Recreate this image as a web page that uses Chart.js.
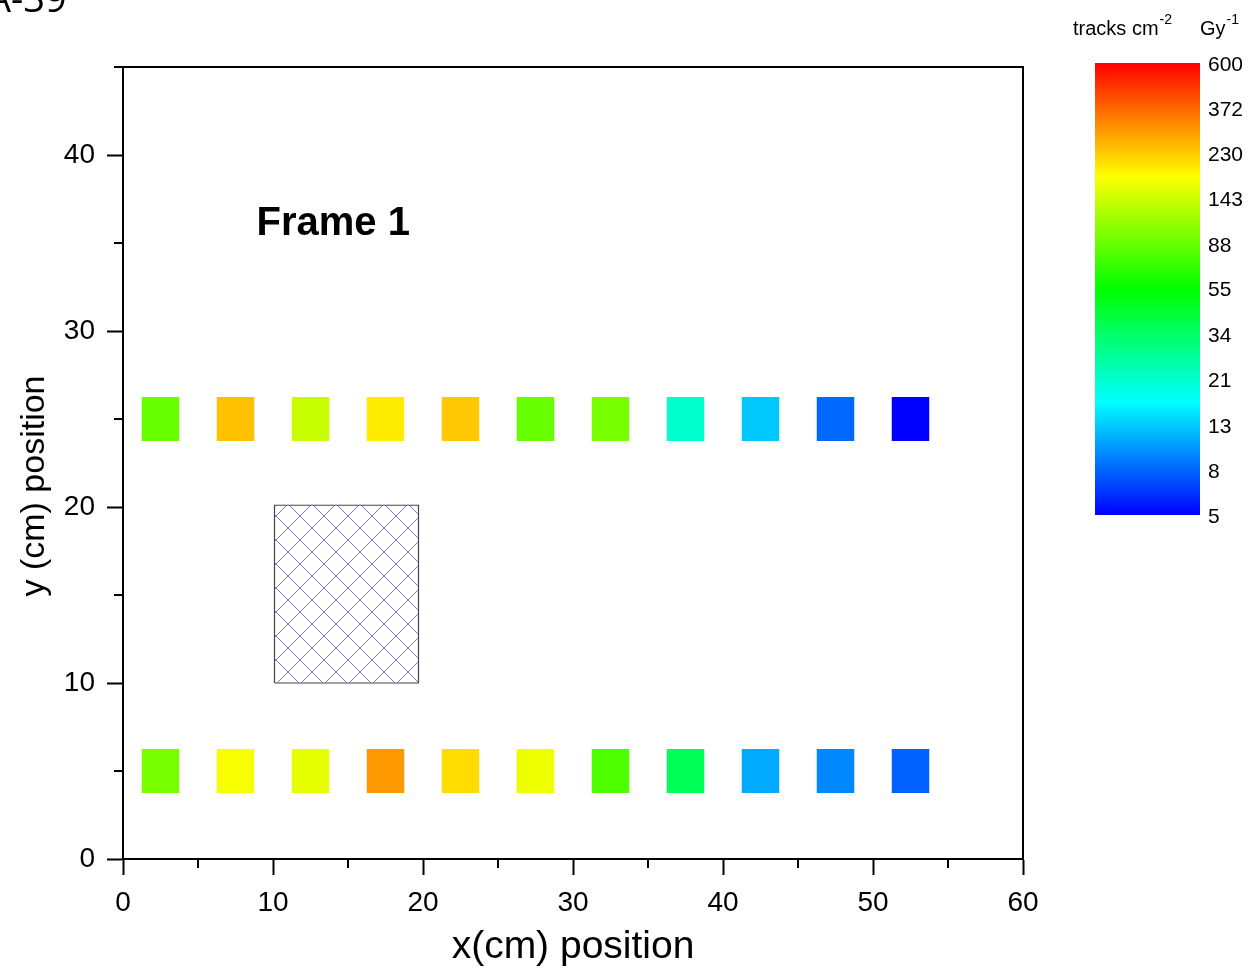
<!DOCTYPE html>
<html>
<head>
<meta charset="utf-8">
<title>Frame 1</title>
<script src="https://cdn.jsdelivr.net/npm/chart.js@4/dist/chart.umd.min.js"></script>
<style>
  html, body { margin: 0; padding: 0; background: #fff; }
  #wrap { position: relative; width: 1249px; height: 972px; }
</style>
</head>
<body>
<div id="wrap"><canvas id="myChart" width="1249" height="972"></canvas></div>
<script>
// detector positions (cm) and dose readings (tracks cm^-2 Gy^-1)
const xPositions = [2.5, 7.5, 12.5, 17.5, 22.5, 27.5, 32.5, 37.5, 42.5, 47.5, 52.5]
const topRowY = 25
const bottomRowY = 5
const detectorSize = 2.5
const topRowValues = [88, 244, 140, 197, 235, 88, 96, 21, 12.8, 8.1, 5]
const bottomRowValues = [96, 175, 161, 292, 213, 167, 79, 37, 11.1, 9.5, 7.9]

// hatched phantom block
const phantomX = [10.1, 19.7]
const phantomY = [10, 20.1]

// colour scale
const colorbarTicks = [5, 8, 13, 21, 34, 55, 88, 143, 230, 372, 600]
const cbMin = 5
const cbMax = 600
const colorStops = [
  [0, 0, 0, 255],
  [0.25, 0, 255, 255],
  [0.5, 0, 255, 0],
  [0.75, 255, 255, 0],
  [1, 255, 0, 0]
]

const FONT = "'Liberation Sans', Arial, Helvetica, sans-serif"
Chart.defaults.font.family = FONT
Chart.defaults.color = '#000'

function valueToT(v) {
  let t = (Math.log(v) - Math.log(cbMin)) / (Math.log(cbMax) - Math.log(cbMin))
  return Math.min(1, Math.max(0, t))
}

function valueToColor(v) {
  let t = valueToT(v)
  for (let i = 1; i < colorStops.length; i++) {
    let a = colorStops[i - 1], b = colorStops[i]
    if (t <= b[0]) {
      let f = (t - a[0]) / (b[0] - a[0])
      let r = Math.round(a[1] + (b[1] - a[1]) * f)
      let g = Math.round(a[2] + (b[2] - a[2]) * f)
      let bl = Math.round(a[3] + (b[3] - a[3]) * f)
      return `rgb(${r},${g},${bl})`
    }
  }
  return 'rgb(255,0,0)'
}

function rowData(y) {
  return xPositions.map(x => ({ x: x, y: [y - detectorSize / 2, y + detectorSize / 2] }))
}

// cross hatch tile, both diagonals drawn as small filled squares
function makeHatch(ctx) {
  let n = 24
  let c = document.createElement('canvas')
  c.width = n
  c.height = n
  let g = c.getContext('2d')
  g.fillStyle = 'rgb(120,120,228)'
  for (let i = 0; i < n; i++) {
    g.fillRect(i, i, 1, 1)
    g.fillRect(n - 1 - i, i, 1, 1)
  }
  return ctx.createPattern(c, 'repeat')
}

const extras = {
  id: 'extras',
  afterDraw(chart) {
    let ctx = chart.ctx
    let area = chart.chartArea
    let xs = chart.scales.x
    let ys = chart.scales.y
    ctx.save()

    // frame top / right
    ctx.strokeStyle = '#000'
    ctx.lineWidth = 2
    ctx.beginPath()
    ctx.moveTo(area.left, area.top)
    ctx.lineTo(area.right, area.top)
    ctx.lineTo(area.right, area.bottom)
    ctx.stroke()

    // minor ticks
    ctx.beginPath()
    xs.ticks.forEach(t => {
      if (t.value % 10 !== 0) {
        let px = xs.getPixelForValue(t.value)
        ctx.moveTo(px, area.bottom)
        ctx.lineTo(px, area.bottom + 9)
      }
    })
    ys.ticks.forEach(t => {
      if (t.value % 10 !== 0) {
        let py = ys.getPixelForValue(t.value)
        ctx.moveTo(area.left, py)
        ctx.lineTo(area.left - 9, py)
      }
    })
    ctx.stroke()

    // frame label
    ctx.fillStyle = '#000'
    ctx.font = 'bold 40px ' + FONT
    ctx.textAlign = 'left'
    ctx.textBaseline = 'middle'
    ctx.fillText('Frame 1', xs.getPixelForValue(8.9), ys.getPixelForValue(36.1))

    // y title
    ctx.save()
    ctx.translate(35, 486)
    ctx.rotate(-Math.PI / 2)
    ctx.font = '34px ' + FONT
    ctx.textAlign = 'center'
    ctx.textBaseline = 'middle'
    ctx.fillText('y (cm) position', 0, 0)
    ctx.restore()

    // sample id, cut at the top edge
    ctx.font = "38px 'Open Sans', " + FONT
    ctx.textAlign = 'left'
    ctx.textBaseline = 'alphabetic'
    ctx.fillText('A-39', -13, 12)

    // colour bar
    let cbLeft = 1095, cbRight = 1200, cbTop = 63, cbBottom = 515
    let grad = ctx.createLinearGradient(0, cbBottom, 0, cbTop)
    colorStops.forEach(s => grad.addColorStop(s[0], `rgb(${s[1]},${s[2]},${s[3]})`))
    ctx.fillStyle = grad
    ctx.fillRect(cbLeft, cbTop, cbRight - cbLeft, cbBottom - cbTop)

    ctx.fillStyle = '#000'
    ctx.font = '21px ' + FONT
    ctx.textBaseline = 'middle'
    colorbarTicks.forEach(v => {
      let py = cbBottom - valueToT(v) * (cbBottom - cbTop)
      ctx.fillText(String(v), cbRight + 8, py + 2)
    })

    // colour bar title
    ctx.textBaseline = 'alphabetic'
    ctx.font = '20px ' + FONT
    ctx.fillText('tracks cm', 1073, 35)
    let w = ctx.measureText('tracks cm').width
    ctx.font = '14px ' + FONT
    ctx.fillText('-2', 1073 + w + 1, 24)
    ctx.font = '20px ' + FONT
    ctx.fillText('Gy', 1200, 35)
    let w2 = ctx.measureText('Gy').width
    ctx.font = '14px ' + FONT
    ctx.fillText('-1', 1200 + w2 + 1, 24)

    ctx.restore()
  }
}

let ctx = document.getElementById('myChart').getContext('2d')
let hatch = makeHatch(ctx)

let chart = new Chart(ctx, {
  type: 'bar',
  data: {
    datasets: [
      {
        label: 'y = 25',
        data: rowData(topRowY),
        backgroundColor: topRowValues.map(valueToColor),
        borderWidth: 0,
        barPercentage: 0.5,
        categoryPercentage: 1,
        grouped: false
      },
      {
        label: 'y = 5',
        data: rowData(bottomRowY),
        backgroundColor: bottomRowValues.map(valueToColor),
        borderWidth: 0,
        barPercentage: 0.5,
        categoryPercentage: 1,
        grouped: false
      },
      {
        type: 'line',
        label: 'phantom fill',
        data: [{ x: phantomX[0], y: phantomY[1] }, { x: phantomX[1], y: phantomY[1] }],
        borderWidth: 1,
        borderColor: 'rgba(0,0,0,0)',
        backgroundColor: hatch,
        fill: { value: phantomY[0] },
        pointRadius: 0,
        tension: 0
      },
      {
        type: 'line',
        label: 'phantom',
        data: [
          { x: phantomX[0], y: phantomY[0] },
          { x: phantomX[1], y: phantomY[0] },
          { x: phantomX[1], y: phantomY[1] },
          { x: phantomX[0], y: phantomY[1] },
          { x: phantomX[0], y: phantomY[0] }
        ],
        borderWidth: 1.2,
        borderColor: '#444',
        backgroundColor: 'rgba(0,0,0,0)',
        fill: false,
        pointRadius: 0,
        tension: 0
      }
    ]
  },
  options: {
    responsive: false,
    animation: false,
    layout: { padding: { left: 0, right: 226, top: 67, bottom: 0 } },
    plugins: {
      legend: { display: false },
      tooltip: { enabled: false }
    },
    scales: {
      x: {
        type: 'linear',
        min: 0,
        max: 60,
        offset: false,
        ticks: {
          stepSize: 5,
          autoSkip: false,
          maxRotation: 0,
          padding: 11,
          color: '#000',
          font: { size: 28 },
          callback: v => (v % 10 === 0 ? v : '')
        },
        grid: {
          offset: false,
          drawOnChartArea: false,
          drawTicks: true,
          tickLength: 16,
          tickWidth: 2,
          tickColor: c => (c.tick && c.tick.value % 10 === 0 ? '#000' : 'rgba(0,0,0,0)')
        },
        border: { display: true, color: '#000', width: 2 },
        title: {
          display: true,
          text: 'x(cm) position',
          color: '#000',
          font: { size: 39 },
          padding: { top: 0, bottom: 1 }
        },
        afterFit: s => { s.height = 113 }
      },
      y: {
        type: 'linear',
        min: 0,
        max: 45,
        ticks: {
          stepSize: 5,
          autoSkip: false,
          padding: 12,
          color: '#000',
          font: { size: 28 },
          callback: v => (v % 10 === 0 ? v : '')
        },
        grid: {
          drawOnChartArea: false,
          drawTicks: true,
          tickLength: 16,
          tickWidth: 2,
          tickColor: c => (c.tick && c.tick.value % 10 === 0 ? '#000' : 'rgba(0,0,0,0)')
        },
        border: { display: true, color: '#000', width: 2 },
        afterFit: s => { s.width = 123 }
      }
    }
  },
  plugins: [extras]
})
</script>
</body>
</html>
